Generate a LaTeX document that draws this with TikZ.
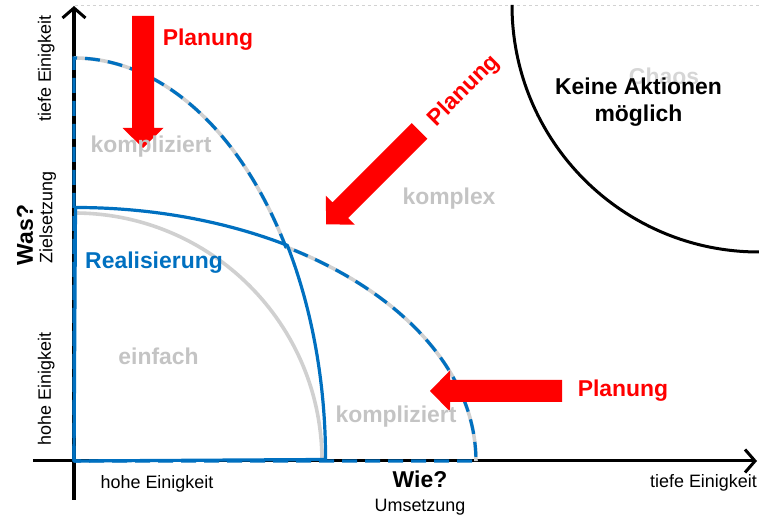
\documentclass[tikz,border=0pt]{standalone}
\usepackage{fontspec}
\setmainfont{Liberation Sans}
\usetikzlibrary{arrows.meta}

\definecolor{realblue}{RGB}{0,112,192}
\definecolor{planred}{RGB}{255,0,0}
\definecolor{curvegray}{RGB}{208,208,208}
\definecolor{labelgray}{RGB}{196,196,196}
\definecolor{chaosgray}{RGB}{214,214,214}

\begin{document}
\begin{tikzpicture}[x=1bp,y=1bp,
  big/.style={font=\fontsize{23}{27}\selectfont\bfseries, inner sep=0pt},
  small/.style={font=\fontsize{18}{21}\selectfont, inner sep=0pt},
  axisline/.style={line width=3bp, black},
  axistip/.style={-{Straight Barb[length=10bp,width=23bp]}},
  graycurve/.style={line width=3.6bp, curvegray},
  bluesolid/.style={line width=3.2bp, realblue, line join=round},
  bluedash/.style={line width=3.2bp, realblue, dash pattern=on 15bp off 8bp},
  planarrow/.pic={\fill[planred] (0,-11) -- (112,-11) -- (112,-20.5) -- (132,0)
                    -- (112,20.5) -- (112,11) -- (0,11) -- cycle;}]
\useasboundingbox (-74,-54) rectangle (685,461);

% faint top border
\draw[gray!35, dashed, line width=0.6bp] (1,456) -- (685,456);

% axes
\coordinate (O) at (0,0);
\coordinate (ybot) at (0,-39);
\coordinate (ytop) at (0,455);
\coordinate (xleft) at (-41,0);
\coordinate (xright) at (683,0);
\draw[axisline, axistip] (ybot) -- (ytop);
\draw[axisline, axistip] (xleft) -- (xright);

% grey domain boundaries
\draw[graycurve] (0,248) arc[start angle=90, end angle=0, radius=248bp];
\draw[graycurve] (0,403)
  arc[start angle=90, end angle=32.1, x radius=250bp, y radius=403bp]
  arc[start angle=58.2, end angle=0, x radius=402bp, y radius=252bp];

% planning envelope (dashed) and realisation region (solid)
\draw[bluedash] (O) -- (0,403)
  arc[start angle=90, end angle=32.1, x radius=250bp, y radius=403bp]
  arc[start angle=58.2, end angle=0, x radius=402bp, y radius=252bp] -- cycle;
\draw[bluesolid, xshift=1.5bp, yshift=1.5bp] (O) -- (0,252)
  arc[start angle=90, end angle=58.2, x radius=402bp, y radius=252bp]
  arc[start angle=32.1, end angle=0, x radius=250bp, y radius=403bp] -- cycle;

% chaos boundary
\draw[line width=3bp] (438,456) arc[start angle=180, end angle=270, radius=247bp];

% planning arrows
\pic[rotate=-90] at (69,445) {planarrow};
\pic[rotate=-135] at (345.5,330) {planarrow};
\pic[rotate=180] at (488,70) {planarrow};

% labels
\node[big, planred] (plan1) at (134,421) {Planung};
\node[big, planred, rotate=45] (plan2) at (390,370) {Planung};
\node[big, planred] (plan3) at (549,70) {Planung};

\node[big, labelgray] (kompl1) at (77,314.5) {kompliziert};
\node[big, labelgray] (kompl2) at (322,44) {kompliziert};
\node[big, labelgray] (komplex) at (375,262) {komplex};
\node[big, labelgray] (einfach) at (84.5,104.5) {einfach};
\node[big, realblue] (real) at (80,198) {Realisierung};
\node[big, chaosgray] (chaos) at (590,385) {Chaos};
\node[big, align=center] (keine) at (564.5,358.5) {Keine Aktionen\\möglich};

\node[big, rotate=90, anchor=base] (was) at (-41,226) {Was?};
\node[small, rotate=90, anchor=base] (ziel) at (-21.5,243.5) {Zielsetzung};
\node[small, rotate=90, anchor=base] (ytief) at (-23,392.5) {tiefe Einigkeit};
\node[small, rotate=90, anchor=base] (yhoch) at (-23,72) {hohe Einigkeit};

\node[small, anchor=base] (xhoch) at (83,-28) {hohe Einigkeit};
\node[big, anchor=base] (wie) at (346,-27) {Wie?};
\node[small, anchor=base] (ums) at (346,-50.5) {Umsetzung};
\node[small, anchor=base] (xtief) at (629.5,-27) {tiefe Einigkeit};
\end{tikzpicture}
\end{document}
